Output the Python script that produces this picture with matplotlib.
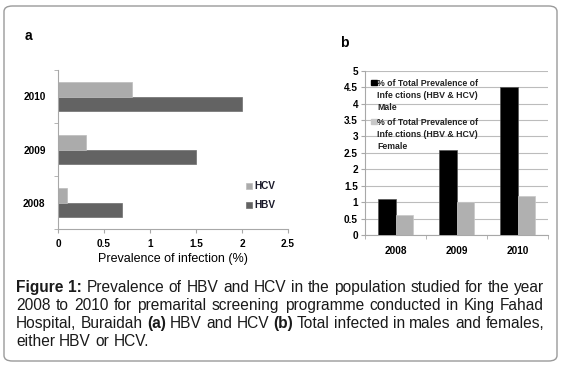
import matplotlib
matplotlib.use("Agg")
import matplotlib.pyplot as plt
from matplotlib.patches import FancyBboxPatch, Rectangle
import numpy as np

plt.rcParams['font.family'] = ['Liberation Sans', 'DejaVu Sans']

# ---- data ----
years = ["2008", "2009", "2010"]
hbv = [0.7, 1.5, 2.0]
hcv = [0.1, 0.3, 0.8]
male = [1.1, 2.6, 4.5]
female = [0.6, 1.0, 1.2]
xticks_a = [0, 0.5, 1, 1.5, 2, 2.5]
xticklabels_a = ["0", "0.5", "1", "1.5", "2", "2.5"]
yticks_b = [0, 0.5, 1, 1.5, 2, 2.5, 3, 3.5, 4, 4.5, 5]
yticklabels_b = ["0", "0.5", "1", "1.5", "2", "2.5", "3", "3.5", "4", "4.5", "5"]
legend_b = ["% of Total Prevalence of\nInfe ctions (HBV & HCV)\nMale",
            "% of Total Prevalence of\nInfe ctions (HBV & HCV)\nFemale"]

W, H = 562, 368
fig = plt.figure(figsize=(W / 100, H / 100), dpi=100)

def fx(px):
    return px / W

def fy(py):
    return 1 - py / H

# border box
box = FancyBboxPatch((fx(4), fy(361)), fx(553), (361 - 6) / H,
                     boxstyle="round,pad=0,rounding_size=0.015",
                     transform=fig.transFigure, fill=False,
                     edgecolor="#9a9a9a", linewidth=1.0)
fig.patches.append(box)

C_HBV = "#636363"
C_HCV = "#ababab"
SP = "#a8a8a8"

# ---- panel a ----
axa = fig.add_axes([fx(58), fy(229), fx(288 - 58), (229 - 70) / H])
y = np.arange(len(years))
bh = 0.28
axa.barh(y - bh / 2, hbv, height=bh, color=C_HBV, edgecolor="#6e6e6e", linewidth=0.5, label="HBV")
axa.barh(y + bh / 2, hcv, height=bh, color=C_HCV, edgecolor="#bdbdbd", linewidth=0.5, label="HCV")
axa.set_xlim(0, 2.5)
axa.set_ylim(-0.5, 2.5)
axa.set_xticks(xticks_a)
axa.set_xticklabels(xticklabels_a, fontsize=7.2, fontweight="bold")
axa.set_yticks(y)
axa.set_yticklabels(years, fontsize=7.2, fontweight="bold")
axa.tick_params(axis="y", length=0, pad=9)
axa.set_yticks([-0.5, 0.5, 1.5, 2.5], minor=True)
axa.tick_params(axis="y", which="minor", length=3, color=SP)
axa.tick_params(axis="x", length=3, color=SP, pad=4)
for s in ["top", "right"]:
    axa.spines[s].set_visible(False)
for s in ["left", "bottom"]:
    axa.spines[s].set_color(SP)
    axa.spines[s].set_linewidth(0.8)
axa.set_xlabel("Prevalence of infection (%)", fontsize=9, labelpad=3)
h, l = axa.get_legend_handles_labels()
leg = axa.legend(h[::-1], l[::-1], loc="upper left", bbox_to_anchor=(0.80, 0.325),
                 frameon=False, prop={"size": 7.2, "weight": "bold"},
                 handlelength=0.6, handleheight=0.6, handletextpad=0.2,
                 labelspacing=0.9, borderaxespad=0)
for t in leg.get_texts():
    t.set_color("#1a1a2a")
fig.text(fx(25), fy(40), "a", fontsize=10, fontweight="bold", va="baseline")

# ---- panel b ----
axb = fig.add_axes([fx(365), fy(235), fx(548 - 365), (235 - 70.7) / H])
x = np.arange(len(years))
bw = 0.28
axb.bar(x - bw / 2, male, width=bw, color="#000000", edgecolor="#555555", linewidth=0.5, zorder=3)
axb.bar(x + bw / 2, female, width=bw, color="#b0b0b0", edgecolor="#c8c8c8", linewidth=0.5, zorder=3)
axb.set_xlim(-0.5, 2.5)
axb.set_ylim(0, 5)
axb.set_yticks(yticks_b)
axb.set_yticklabels(yticklabels_b, fontsize=7.2, fontweight="bold")
axb.set_xticks(x)
axb.set_xticklabels(years, fontsize=7.2, fontweight="bold")
axb.tick_params(axis="x", length=0, pad=8)
axb.set_xticks([-0.5, 0.5, 1.5, 2.5], minor=True)
axb.tick_params(axis="x", which="minor", length=3, color=SP)
axb.tick_params(axis="y", length=3, color=SP, pad=2)
axb.yaxis.grid(True, color="#bcbcbc", linewidth=0.8, zorder=0)
axb.set_axisbelow(True)
for s in ["top", "right"]:
    axb.spines[s].set_visible(False)
for s in ["left", "bottom"]:
    axb.spines[s].set_color(SP)
    axb.spines[s].set_linewidth(0.8)
# legend (manual, handle at first line)
for i, (lab, col) in enumerate(zip(legend_b, ["#000000", "#c8c8c8"])):
    ty = 0.95 - i * 0.238
    axb.add_patch(Rectangle((0.035, ty - 0.038), 0.03, 0.032, transform=axb.transAxes,
                            color=col, zorder=5, clip_on=False))
    axb.text(0.065, ty, lab, transform=axb.transAxes, fontsize=6.3, fontweight="bold",
             va="top", ha="left", linespacing=1.45, color="#222222", zorder=5)
fig.text(fx(340), fy(47), "b", fontsize=10, fontweight="bold", va="baseline")

# ---- caption (justified) ----
lines = [
    [("Figure 1:", True), ("Prevalence of HBV and HCV in the population studied for the year", False)],
    [("2008 to 2010 for premarital screening programme conducted in King Fahad", False)],
    [("Hospital, Buraidah", False), ("(a)", True), ("HBV and HCV", False), ("(b)", True),
     ("Total infected in males and females,", False)],
    [("either HBV or HCV.", False)],
]
x0, x1 = 16, 544
baselines = [292, 310, 328, 346]
fs = 11.2
fig.canvas.draw()
r = fig.canvas.get_renderer()
for li, (segs, base) in enumerate(zip(lines, baselines)):
    words = []
    for txt, bold in segs:
        for w in txt.split(" "):
            words.append((w, bold))
    objs = []
    for w, bold in words:
        t = fig.text(0, fy(base), w, fontsize=fs, fontweight="bold" if bold else "normal",
                     va="baseline", ha="left", color="#1a1a1a")
        objs.append(t)
    widths = [t.get_window_extent(r).width for t in objs]
    total = sum(widths)
    if li < len(lines) - 1:
        gap = (x1 - x0 - total) / (len(words) - 1)
    else:
        sp = fig.text(0, 0, "a b", fontsize=fs)
        sp2 = fig.text(0, 0, "ab", fontsize=fs)
        gap = sp.get_window_extent(r).width - sp2.get_window_extent(r).width
        sp.remove(); sp2.remove()
    cx = x0
    for t, wd in zip(objs, widths):
        t.set_x(fx(cx))
        cx += wd + gap

fig.savefig("out.png", dpi=100)
